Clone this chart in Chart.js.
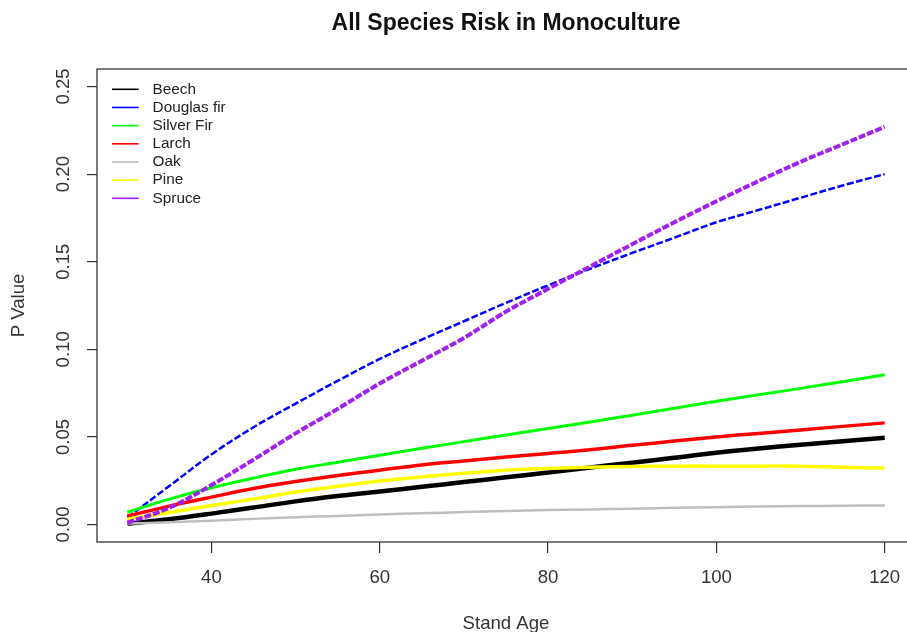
<!DOCTYPE html>
<html>
<head>
<meta charset="utf-8">
<title>All Species Risk in Monoculture</title>
<script src="https://cdn.jsdelivr.net/npm/chart.js@4.4.1/dist/chart.umd.min.js"></script>
<style>
  html, body { margin: 0; padding: 0; background: #fff; overflow: hidden; }
  #wrap { position: relative; width: 920px; height: 632px; }
</style>
</head>
<body>
<div id="wrap"><canvas id="risk-chart"></canvas></div>
<script>
// stand age in years, predicted risk (p value) per species
var AGES        = [30, 35, 40, 45, 50, 55, 60, 65, 70, 75, 80, 85, 90, 95, 100, 105, 110, 115, 120];
var BEECH       = [0.0005, 0.003, 0.0062, 0.0097, 0.0132, 0.0162, 0.0188, 0.0215, 0.0242, 0.0269, 0.0297, 0.0325, 0.0353, 0.0381, 0.041, 0.0434, 0.0455, 0.0475, 0.0495];
var DOUGLAS_FIR = [0.004, 0.022, 0.040, 0.0555, 0.069, 0.082, 0.0945, 0.1055, 0.116, 0.1265, 0.1365, 0.146, 0.155, 0.1637, 0.1725, 0.1795, 0.1865, 0.1935, 0.200];
var SILVER_FIR  = [0.007, 0.0145, 0.021, 0.0265, 0.0315, 0.0355, 0.0395, 0.0435, 0.0473, 0.0511, 0.0548, 0.0585, 0.0624, 0.0663, 0.0703, 0.074, 0.0777, 0.0815, 0.0855];
var LARCH       = [0.0048, 0.0105, 0.0156, 0.0205, 0.0245, 0.028, 0.031, 0.034, 0.0363, 0.0385, 0.0405, 0.0426, 0.0452, 0.0476, 0.050, 0.052, 0.054, 0.056, 0.058];
var OAK         = [0.0005, 0.0013, 0.0021, 0.0032, 0.0041, 0.0049, 0.0057, 0.0064, 0.0071, 0.0077, 0.0082, 0.0086, 0.009, 0.0095, 0.0099, 0.0102, 0.0105, 0.0107, 0.0109];
var PINE        = [0.003, 0.0068, 0.0108, 0.0145, 0.0185, 0.0218, 0.0248, 0.0272, 0.0293, 0.031, 0.032, 0.0327, 0.0331, 0.0333, 0.0333, 0.0333, 0.0333, 0.0327, 0.0322];
var SPRUCE      = [0.001, 0.0095, 0.0225, 0.037, 0.052, 0.066, 0.0805, 0.0935, 0.1065, 0.1215, 0.1345, 0.1473, 0.160, 0.1725, 0.1845, 0.196, 0.207, 0.217, 0.227];

var SPECIES = ['Beech', 'Douglas fir', 'Silver Fir', 'Larch', 'Oak', 'Pine', 'Spruce'];
var X_TICKS = [40, 60, 80, 100, 120];
var Y_TICKS = [0, 0.05, 0.10, 0.15, 0.20, 0.25];

var FONT = "'Liberation Sans', Arial, sans-serif";
var INK = '#333';

function points(values) {
  return AGES.map(function (age, i) { return { x: age, y: values[i] }; });
}

var series = [BEECH, DOUGLAS_FIR, SILVER_FIR, LARCH, OAK, PINE, SPRUCE];
var colors = ['#000000', '#0000ff', '#00ff00', '#ff0000', '#bebebe', '#ffff00', '#a020f0'];
var widths = [4.5, 2.5, 3, 3.5, 2.5, 3.5, 4];
var dashes = [[], [7, 2.5], [], [], [], [], [7, 2]];

var datasets = series.map(function (values, i) {
  return {
    label: SPECIES[i],
    data: points(values),
    borderColor: colors[i],
    backgroundColor: colors[i],
    borderWidth: widths[i],
    borderDash: dashes[i],
    pointRadius: 0,
    tension: 0.35,
    // later species are drawn on top, like successive lines() calls
    order: series.length - i
  };
});

// R style box around the plot region
var plotFrame = {
  id: 'plotFrame',
  afterDraw: function (chart) {
    var a = chart.chartArea, ctx = chart.ctx;
    ctx.save();
    ctx.strokeStyle = INK;
    ctx.lineWidth = 1.3;
    ctx.strokeRect(a.left, a.top, a.right - a.left, a.bottom - a.top);
    ctx.restore();
  }
};

// legend without a box, placed top left inside the plot
var rLegend = {
  id: 'rLegend',
  afterDraw: function (chart, args, opts) {
    var a = chart.chartArea, ctx = chart.ctx;
    ctx.save();
    ctx.font = opts.fontSize + 'px ' + FONT;
    ctx.textBaseline = 'middle';
    ctx.textAlign = 'left';
    chart.data.datasets.forEach(function (ds, i) {
      var x = a.left + opts.left;
      var y = a.top + opts.top + i * opts.rowHeight;
      ctx.strokeStyle = ds.borderColor;
      ctx.lineWidth = opts.lineWidth;
      ctx.beginPath();
      ctx.moveTo(x, y);
      ctx.lineTo(x + opts.lineLength, y);
      ctx.stroke();
      ctx.fillStyle = opts.color;
      ctx.fillText(ds.label, x + opts.lineLength + opts.gap, y);
    });
    ctx.restore();
  }
};

var ctx = document.getElementById('risk-chart');

var chart = new Chart(ctx, {
  type: 'line',
  data: { datasets: datasets },
  plugins: [plotFrame, rLegend],
  options: {
    responsive: true,
    maintainAspectRatio: false,
    animation: false,
    layout: { padding: { left: 0, right: 5, top: 0, bottom: 0 } },
    plugins: {
      legend: { display: false },
      tooltip: { enabled: false },
      title: {
        display: true,
        text: 'All Species Risk in Monoculture',
        fullSize: false,
        color: '#111',
        font: { family: FONT, size: 23, weight: 'bold', lineHeight: 1.2 },
        padding: { top: 10, bottom: 31.4 }
      },
      rLegend: {
        left: 15, top: 20.3, rowHeight: 18.17,
        lineLength: 26.6, gap: 14, lineWidth: 1.6,
        fontSize: 15.3, color: '#222'
      }
    },
    scales: {
      x: {
        type: 'linear',
        min: 26.4,
        max: 123.6,
        afterBuildTicks: function (scale) {
          scale.ticks = X_TICKS.map(function (v) { return { value: v }; });
        },
        afterFit: function (scale) { scale.height = 90; },
        grid: { drawOnChartArea: false, drawTicks: true, tickLength: 11, color: INK, lineWidth: 1.2 },
        border: { display: false },
        ticks: {
          color: INK,
          font: { family: FONT, size: 18.6 },
          padding: 13.7,
          maxRotation: 0,
          autoSkip: false,
          callback: function (v) { return String(v); }
        },
        title: {
          display: true,
          text: 'Stand Age',
          color: INK,
          font: { family: FONT, size: 18.6, lineHeight: 1.2 },
          padding: { top: 0, bottom: -2.8 }
        }
      },
      y: {
        type: 'linear',
        min: -0.01,
        max: 0.26,
        afterBuildTicks: function (scale) {
          scale.ticks = Y_TICKS.map(function (v) { return { value: v }; });
        },
        afterFit: function (scale) { scale.width = 97; },
        grid: { drawOnChartArea: false, drawTicks: true, tickLength: 10, color: INK, lineWidth: 1.2 },
        border: { display: false },
        ticks: {
          color: INK,
          font: { family: FONT, size: 18.6 },
          padding: 5.4,
          minRotation: 90,
          maxRotation: 90,
          crossAlign: 'center',
          autoSkip: false,
          callback: function (v) { return v.toFixed(2); }
        },
        title: {
          display: true,
          text: 'P Value',
          color: INK,
          font: { family: FONT, size: 18.6, lineHeight: 1.2 },
          padding: { top: 7.4, bottom: 0 }
        }
      }
    }
  }
});
</script>
</body>
</html>
